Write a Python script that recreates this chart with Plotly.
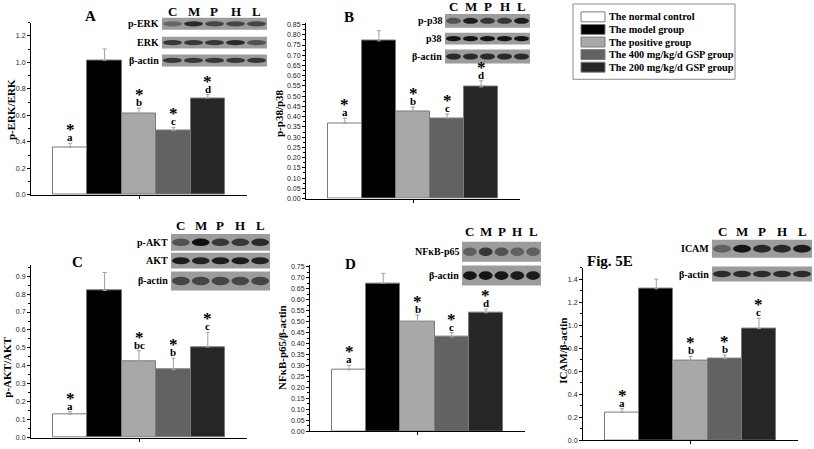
import plotly.graph_objects as go

W, H = 814, 449

groups = ["The normal control", "The model group", "The positive group",
          "The 400 mg/kg/d GSP group", "The 200 mg/kg/d GSP group"]
bar_colors = ["#ffffff", "#000000", "#a8a8a8", "#626262", "#262626"]
lanes = ["C", "M", "P", "H", "L"]

# panel A  p-ERK/ERK
erk_vals = [0.36, 1.015, 0.615, 0.485, 0.73]
erk_err = [0.03, 0.085, 0.04, 0.025, 0.027]
erk_sig = ["a", "", "b", "c", "d"]
# panel B  p-p38/p38
p38_vals = [0.368, 0.77, 0.427, 0.393, 0.545]
p38_err = [0.025, 0.05, 0.02, 0.02, 0.03]
p38_sig = ["a", "", "b", "c", "d"]
# panel C  p-AKT/AKT
akt_vals = [0.132, 0.82, 0.425, 0.379, 0.505]
akt_err = [0.013, 0.1, 0.06, 0.064, 0.082]
akt_sig = ["a", "", "bc", "b", "c"]
# panel D  NFkB-p65/b-actin
nfkb_vals = [0.28, 0.675, 0.50, 0.43, 0.54]
nfkb_err = [0.02, 0.045, 0.03, 0.02, 0.017]
nfkb_sig = ["a", "", "b", "c", "d"]
# panel E  ICAM/b-actin
icam_vals = [0.245, 1.315, 0.69, 0.71, 0.97]
icam_err = [0.03, 0.085, 0.04, 0.03, 0.09]
icam_sig = ["a", "", "b", "b", "c"]


def px(x):
    return x / W


def py(y):
    return 1 - y / H


SERIF = "Liberation Serif"
SANS = "Liberation Sans"

panels = [
    dict(vals=erk_vals, err=erk_err, sig=erk_sig, title="<b>A</b>", ytitle="<b>p-ERK/ERK</b>",
         x0=31, x1=247, yz=195.7, yt=21.7, ymax=1.30, dtick=0.2, fmt=".1f",
         tpos=(90, 15), ypos=(11, 110)),
    dict(vals=p38_vals, err=p38_err, sig=p38_sig, title="<b>B</b>", ytitle="<b>p-p38/p38</b>",
         x0=306, x1=520, yz=199.3, yt=21.7, ymax=0.86, dtick=0.05, fmt=".2f",
         tpos=(349, 16), ypos=(279, 113)),
    dict(vals=akt_vals, err=akt_err, sig=akt_sig, title="<b>C</b>", ytitle="<b>p-AKT/AKT</b>",
         x0=31, x1=247, yz=440.7, yt=266.7, ymax=0.96, dtick=0.1, fmt=".1f",
         tpos=(77, 263), ypos=(7, 370)),
    dict(vals=nfkb_vals, err=nfkb_err, sig=nfkb_sig, title="<b>D</b>", ytitle="<b>NFκB-p65/β-actin</b>",
         x0=310, x1=525, yz=434.0, yt=266.0, ymax=0.76, dtick=0.05, fmt=".2f",
         tpos=(350, 265), ypos=(282, 350)),
    dict(vals=icam_vals, err=icam_err, sig=icam_sig, title="<b>Fig. 5E</b>", ytitle="<b>ICAM/β-actin</b>",
         x0=583, x1=798, yz=443.3, yt=269.0, ymax=1.50, dtick=0.2, fmt=".1f",
         tpos=(610, 262), ypos=(563, 353)),
]

fig = go.Figure()
annotations = []
shapes = []


def note(x, y, text, size, **kw):
    d = dict(x=px(x), y=py(y), xref="paper", yref="paper", text=text, showarrow=False,
             xanchor="center", yanchor="middle", font=dict(family=SERIF, size=size, color="black"))
    d.update(kw)
    annotations.append(d)


for i, p in enumerate(panels):
    n = "" if i == 0 else str(i + 1)
    xa, ya = "x" + n, "y" + n
    fig.add_trace(go.Bar(
        x=list(range(5)), y=p["vals"], xaxis=xa, yaxis=ya,
        width=1, showlegend=False,
        marker=dict(color=bar_colors, line=dict(color="#7a7a7a", width=1)),
        error_y=dict(type="data", symmetric=False, array=p["err"],
                     arrayminus=[0] * 5, color="#a0a0a0", thickness=1, width=2),
    ))
    fig.layout["xaxis" + n] = dict(
        domain=[px(p["x0"]), px(p["x1"])], anchor=ya, range=[-1.14, 5.14],
        showline=True, linecolor="black", linewidth=1, showgrid=False, zeroline=False,
        tickvals=[2], ticktext=[""], ticks="outside", ticklen=3, tickcolor="black",
    )
    minor_dt = p["dtick"] / 2
    fig.layout["yaxis" + n] = dict(
        domain=[py(p["yz"]), py(p["yt"])], anchor=xa, range=[0, p["ymax"]],
        showline=True, linecolor="black", linewidth=1, showgrid=False, zeroline=False,
        dtick=p["dtick"], tick0=0, tickformat=p["fmt"], ticks="outside", ticklen=3,
        tickcolor="black", tickfont=dict(family=SANS, size=7, color="#222"),
        minor=dict(ticks="outside", ticklen=2, dtick=minor_dt, tick0=0, tickcolor="black"),
    )
    # significance marks
    for j in range(5):
        if not p["sig"][j]:
            continue
        top = p["vals"][j] + p["err"][j]
        annotations.append(dict(x=j, y=top, xref=xa, yref=ya, text="<b>" + p["sig"][j] + "</b>",
                                showarrow=False, xanchor="center", yanchor="bottom", yshift=-2,
                                font=dict(family=SERIF, size=11, color="black")))
        annotations.append(dict(x=j, y=top, xref=xa, yref=ya, text="<b>*</b>",
                                showarrow=False, xanchor="center", yanchor="bottom", yshift=2,
                                font=dict(family=SERIF, size=17, color="black")))
    note(p["tpos"][0], p["tpos"][1], p["title"], 15)
    note(p["ypos"][0], p["ypos"][1], p["ytitle"], 11, textangle=-90)

# western blot insets (decoration)
blots = [
    dict(strip=(162, 267), lab_y=11, rows=[("p-ERK", 17, 29, [0.35, 0.8, 0.6, 0.6, 0.6]),
                                           ("ERK", 36, 48, [0.7, 0.7, 0.7, 0.8, 0.5]),
                                           ("β-actin", 54, 66, [0.7, 0.7, 0.7, 0.7, 0.7])]),
    dict(strip=(445, 530), lab_y=6, rows=[("p-p38", 13, 27, [0.5, 0.9, 0.7, 0.7, 0.9]),
                                          ("p38", 32, 44, [0.95, 0.95, 0.95, 0.95, 0.95]),
                                          ("β-actin", 49, 63, [0.8, 0.8, 0.8, 0.8, 0.8])]),
    dict(strip=(171, 270), lab_y=227, rows=[("p-AKT", 235, 252, [0.5, 1.0, 0.7, 0.7, 0.8]),
                                            ("AKT", 254, 270, [0.9, 0.85, 0.9, 0.9, 0.85]),
                                            ("β-actin", 273, 292, [0.6, 0.6, 0.6, 0.6, 0.6])]),
    dict(strip=(462, 541), lab_y=233, rows=[("NFκB-p65", 243, 263, [0.4, 0.7, 0.5, 0.4, 0.4]),
                                            ("β-actin", 267, 287, [0.95, 0.95, 0.95, 0.9, 0.9])]),
    dict(strip=(712, 812), lab_y=233, rows=[("ICAM", 241, 259, [0.4, 0.95, 0.8, 0.8, 0.9]),
                                            ("β-actin", 268, 283, [0.8, 0.8, 0.8, 0.8, 0.8])]),
]

for b in blots:
    sx0, sx1 = b["strip"]
    lw = (sx1 - sx0) / 5
    for k, lane in enumerate(lanes):
        note(sx0 + lw * (k + 0.5), b["lab_y"], "<b>" + lane + "</b>", 13, borderpad=0)
    for name, r0, r1, dark in b["rows"]:
        shapes.append(dict(type="rect", xref="paper", yref="paper",
                           x0=px(sx0), x1=px(sx1), y0=py(r1), y1=py(r0),
                           fillcolor="#9c9c9c", line=dict(width=0), layer="above"))
        hh = (r1 - r0) * 0.22
        mid = (r0 + r1) / 2
        for k, d in enumerate(dark):
            v = int(150 - 135 * d)
            shapes.append(dict(type="circle", xref="paper", yref="paper",
                               x0=px(sx0 + lw * k + 1), x1=px(sx0 + lw * (k + 1) - 1),
                               y0=py(mid + hh), y1=py(mid - hh),
                               fillcolor="rgb(%d,%d,%d)" % (v, v, v), line=dict(width=0),
                               layer="above"))
        note(sx0 - 1, mid, "<b>" + name + "</b>", 10, xanchor="right")

# legend box
shapes.append(dict(type="rect", xref="paper", yref="paper", x0=px(573), x1=px(735),
                   y0=py(79), y1=py(3), line=dict(color="#8a8a8a", width=1), fillcolor="white",
                   layer="below"))
for k, g in enumerate(groups):
    cy = 16 + k * 12.7
    shapes.append(dict(type="rect", xref="paper", yref="paper", x0=px(581), x1=px(605),
                       y0=py(cy + 5), y1=py(cy - 5), fillcolor=bar_colors[k],
                       line=dict(color="#7a7a7a", width=1)))
    note(607, cy, "<b>" + g + "</b>", 10.3, xanchor="left")

fig.update_layout(
    width=W, height=H, margin=dict(l=0, r=0, t=0, b=0),
    paper_bgcolor="white", plot_bgcolor="rgba(0,0,0,0)",
    bargap=0, annotations=annotations, shapes=shapes,
)

fig.write_html("out.html", config={"displayModeBar": False},
               post_script="document.body.style.margin='0';")
